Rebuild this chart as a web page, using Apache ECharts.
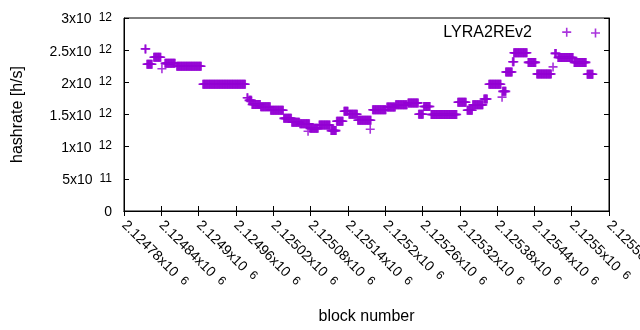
<!DOCTYPE html>
<html>
<head>
<meta charset="utf-8">
<script src="https://cdn.jsdelivr.net/npm/echarts@6/dist/echarts.min.js"></script>
<style>
  html, body { margin: 0; padding: 0; background: #fff; }
  #chart { width: 640px; height: 330px; }
</style>
</head>
<body>
<div id="chart"></div>
<script>
// hashrate runs: [first block, last block] at a constant rate
const runStart = [2124814, 2124817, 2124828, 2124841, 2124846, 2124865, 2124907, 2124978, 2124981, 2124986,
  2125000, 2125016, 2125037, 2125050, 2125063, 2125076, 2125079, 2125094, 2125113, 2125122,
  2125134, 2125142, 2125156, 2125176, 2125180, 2125203, 2125217, 2125237, 2125254, 2125262,
  2125274, 2125317, 2125332, 2125341, 2125359, 2125367, 2125388, 2125389, 2125394, 2125405,
  2125407, 2125430, 2125444, 2125470, 2125473, 2125478, 2125492, 2125504, 2125525]
const runEnd = [2124815, 2124825, 2124839, 2124841, 2124862, 2124904, 2124975, 2124979, 2124985, 2124999,
  2125015, 2125036, 2125049, 2125062, 2125078, 2125076, 2125092, 2125111, 2125121, 2125132,
  2125140, 2125155, 2125177, 2125176, 2125201, 2125216, 2125235, 2125253, 2125261, 2125272,
  2125315, 2125330, 2125340, 2125357, 2125364, 2125386, 2125388, 2125394, 2125404, 2125407,
  2125428, 2125442, 2125467, 2125470, 2125475, 2125502, 2125492, 2125523, 2125534]
const runRate = [2.52e12, 2.28e12, 2.39e12, 2.21e12, 2.295e12, 2.25e12, 1.97e12, 1.76e12, 1.72e12, 1.655e12,
  1.62e12, 1.565e12, 1.44e12, 1.38e12, 1.355e12, 1.24e12, 1.285e12, 1.335e12, 1.25e12, 1.395e12,
  1.55e12, 1.505e12, 1.41e12, 1.27e12, 1.575e12, 1.615e12, 1.65e12, 1.68e12, 1.505e12, 1.625e12,
  1.50e12, 1.69e12, 1.565e12, 1.65e12, 1.74e12, 1.97e12, 1.77e12, 1.86e12, 2.16e12, 2.32e12,
  2.46e12, 2.31e12, 2.13e12, 2.24e12, 2.45e12, 2.385e12, 2.78e12, 2.31e12, 2.125e12]

const xMin = 2124780
const xMax = 2125560
const xStep = 60
const yMax = 3e12
const yStep = 5e11
const seriesName = 'LYRA2REv2'

const points = []
runStart.forEach((s, i) => {
  for (let b = s; b <= runEnd[i]; b++) points.push([b, runRate[i]])
})

const plus = 'path://M0,3.7H9V5.3H0Z M3.7,0H5.3V9H3.7Z'
const font = 'Liberation Sans, Arial, sans-serif'

function sci(v) {
  if (v === 0) return '{b|0}'
  const e = Math.floor(Math.log10(v))
  const m = parseFloat((v / Math.pow(10, e)).toFixed(5))
  return '{b|' + m + 'x10}{s|' + e + '}'
}
const richY = {
  b: { fontSize: 14, fontFamily: font, color: '#000', padding: [3, 0, 0, 0] },
  s: { fontSize: 12, fontFamily: font, color: '#000', padding: [0, 0, 1, 7] }
}
const richX = {
  b: { fontSize: 14, fontFamily: font, color: '#000' },
  s: { fontSize: 12, fontFamily: font, color: '#000', padding: [0, 0, 3, 7] }
}

const chart = echarts.init(document.getElementById('chart'))
chart.setOption({
  animation: false,
  backgroundColor: '#fff',
  grid: {
    left: 124, right: 31, top: 18, bottom: 119,
    outerBoundsMode: 'none', containLabel: false,
    show: true, borderColor: '#000', borderWidth: 1
  },
  legend: {
    data: [{ name: seriesName, icon: plus }],
    right: 35, top: 20,
    align: 'right',
    itemWidth: 9, itemHeight: 9,
    textStyle: { fontSize: 16, fontFamily: font, color: '#000', padding: [0, 54, 0, 0] }
  },
  xAxis: [{
    type: 'value', min: xMin, max: xMax, interval: xStep,
    name: 'block number', nameLocation: 'middle', nameGap: 98,
    nameTextStyle: { fontSize: 16, fontFamily: font, color: '#000' },
    axisLine: { lineStyle: { color: '#000' } },
    axisTick: { inside: true, length: 5, lineStyle: { color: '#000' } },
    splitLine: { show: false },
    axisLabel: {
      rotate: -45, margin: 12, showMaxLabel: true,
      formatter: v => '{b|' + parseFloat((v / 1e6).toFixed(5)) + 'x10}{s|6}',
      rich: richX
    }
  }, {
    type: 'value', min: xMin, max: xMax, interval: xStep, position: 'top',
    axisLine: { lineStyle: { color: '#000' } },
    axisTick: { inside: true, length: 5, lineStyle: { color: '#000' } },
    axisLabel: { show: false }, splitLine: { show: false }
  }],
  yAxis: [{
    type: 'value', min: 0, max: yMax, interval: yStep,
    name: 'hashrate [h/s]', nameLocation: 'middle', nameGap: 98,
    nameTextStyle: { fontSize: 16, fontFamily: font, color: '#000' },
    axisLine: { show: true, lineStyle: { color: '#000' } },
    axisTick: { show: true, inside: true, length: 5, lineStyle: { color: '#000' } },
    splitLine: { show: false },
    axisLabel: { margin: 12, formatter: sci, rich: richY }
  }, {
    type: 'value', min: 0, max: yMax, interval: yStep, position: 'right',
    axisLine: { show: true, lineStyle: { color: '#000' } },
    axisTick: { show: true, inside: true, length: 5, lineStyle: { color: '#000' } },
    axisLabel: { show: false }, splitLine: { show: false }
  }],
  series: [{
    name: seriesName,
    type: 'scatter',
    symbol: plus,
    symbolSize: 9,
    itemStyle: { color: '#9400d3' },
    data: points
  }]
})
</script>
</body>
</html>
